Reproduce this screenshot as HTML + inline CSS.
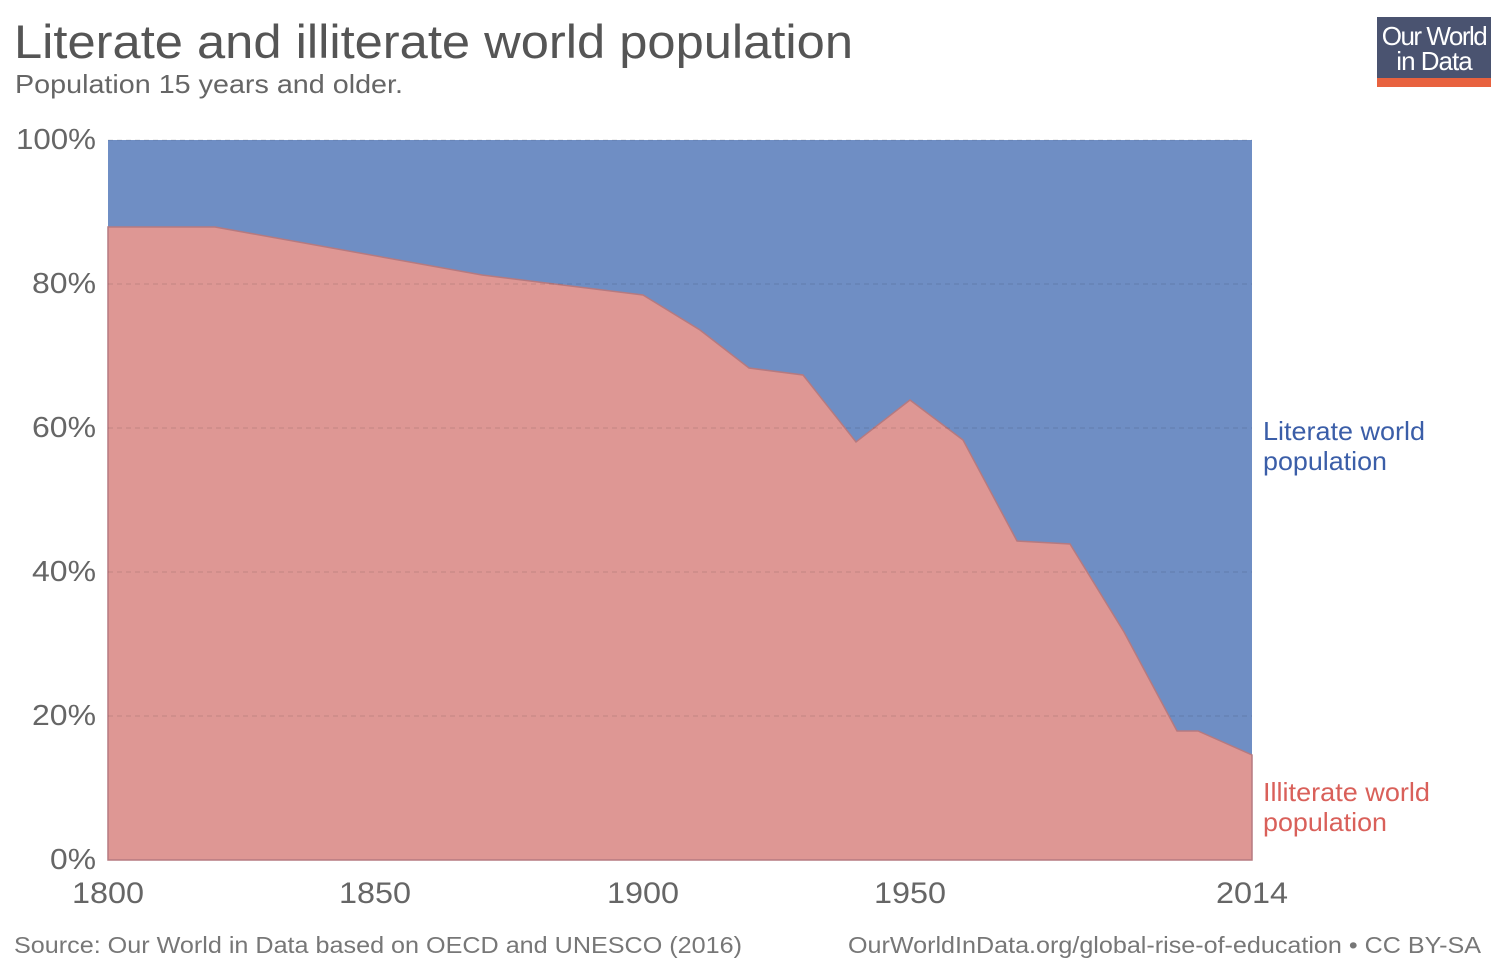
<!DOCTYPE html>
<html><head><style>
body{margin:0;background:#fff;width:1500px;height:965px;overflow:hidden;font-family:"Liberation Sans",sans-serif}
</style></head><body>
<svg width="1500" height="965" xmlns="http://www.w3.org/2000/svg" font-family="Liberation Sans, sans-serif">
<text x="14" y="58" font-size="47" fill="#555" textLength="839" lengthAdjust="spacingAndGlyphs">Literate and illiterate world population</text>
<text x="15" y="93" font-size="26" fill="#666" textLength="388" lengthAdjust="spacingAndGlyphs">Population 15 years and older.</text>
<rect x="1377" y="17" width="114" height="62" fill="#4a5370"/>
<rect x="1377" y="78" width="114" height="9" fill="#e8623f"/>
<text x="1434" y="45" font-size="26" fill="#fff" text-anchor="middle" letter-spacing="-1.5">Our World</text>
<text x="1434" y="70" font-size="26" fill="#fff" text-anchor="middle" letter-spacing="-1">in Data</text>
<rect x="108" y="140" width="1144" height="720" fill="#6f8ec4"/>
<polygon fill="#de9794" stroke="#b57a80" stroke-width="1.5" points="108,227 215,227 482,275 643,295 700,330 749,368 803,375 856,442 910,400 963,440 1017,541 1070,544 1124,632 1177,731 1198,731 1252,755 1252,860 108,860"/>
<g stroke="#000" stroke-opacity="0.12" stroke-dasharray="5,4" stroke-width="1">
<line x1="108" y1="140" x2="1252" y2="140"/><line x1="108" y1="284" x2="1252" y2="284"/>
<line x1="108" y1="428" x2="1252" y2="428"/><line x1="108" y1="572" x2="1252" y2="572"/>
<line x1="108" y1="716" x2="1252" y2="716"/>
</g>
<g font-size="29" fill="#666" text-anchor="end" lengthAdjust="spacingAndGlyphs">
<text x="96" y="149" textLength="80" lengthAdjust="spacingAndGlyphs">100%</text>
<text x="96" y="293" textLength="64" lengthAdjust="spacingAndGlyphs">80%</text>
<text x="96" y="437" textLength="64" lengthAdjust="spacingAndGlyphs">60%</text>
<text x="96" y="581" textLength="64" lengthAdjust="spacingAndGlyphs">40%</text>
<text x="96" y="725" textLength="64" lengthAdjust="spacingAndGlyphs">20%</text>
<text x="96" y="869" textLength="46" lengthAdjust="spacingAndGlyphs">0%</text>
</g>
<g font-size="30" fill="#666" text-anchor="middle">
<text x="108" y="903" textLength="72" lengthAdjust="spacingAndGlyphs">1800</text>
<text x="375" y="903" textLength="72" lengthAdjust="spacingAndGlyphs">1850</text>
<text x="643" y="903" textLength="72" lengthAdjust="spacingAndGlyphs">1900</text>
<text x="910" y="903" textLength="72" lengthAdjust="spacingAndGlyphs">1950</text>
<text x="1252" y="903" textLength="72" lengthAdjust="spacingAndGlyphs">2014</text>
</g>
<g font-size="26" fill="#3b5ea8"><text x="1263" y="440" textLength="162" lengthAdjust="spacingAndGlyphs">Literate world</text><text x="1263" y="470" textLength="124" lengthAdjust="spacingAndGlyphs">population</text></g>
<g font-size="26" fill="#d9605a"><text x="1263" y="801" textLength="167" lengthAdjust="spacingAndGlyphs">Illiterate world</text><text x="1263" y="831" textLength="124" lengthAdjust="spacingAndGlyphs">population</text></g>
<text x="14" y="953" font-size="23" fill="#777" textLength="728" lengthAdjust="spacingAndGlyphs">Source: Our World in Data based on OECD and UNESCO (2016)</text>
<text x="848" y="953" font-size="23" fill="#777" textLength="633" lengthAdjust="spacingAndGlyphs">OurWorldInData.org/global-rise-of-education • CC BY-SA</text>
</svg>
</body></html>
